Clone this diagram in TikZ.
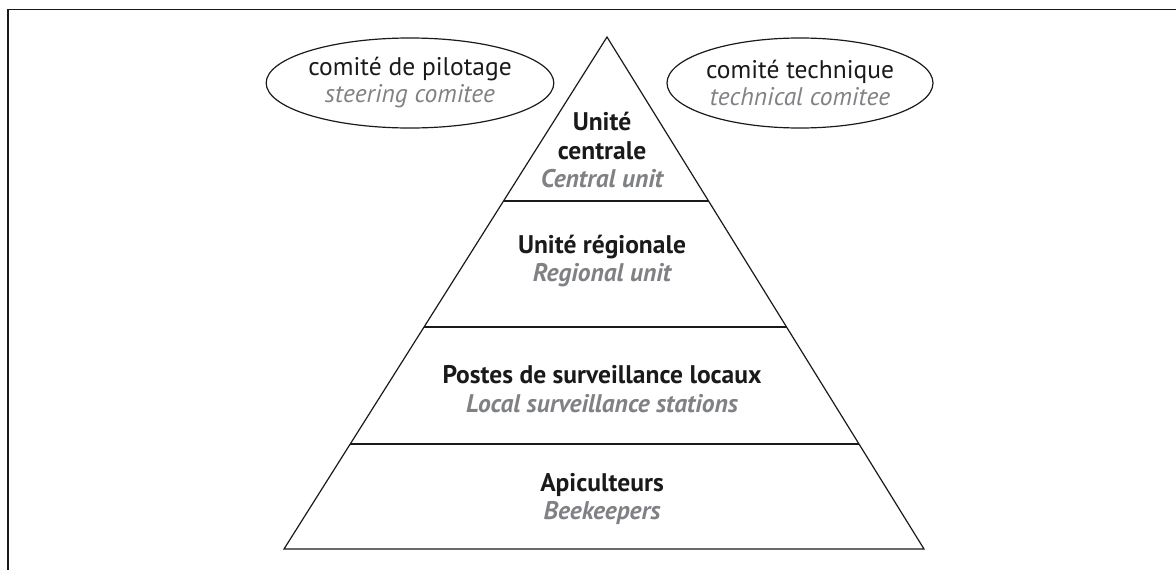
\documentclass[tikz,border=0pt]{standalone}
\usepackage{fontspec}
\setmainfont{PT Sans}
\usepackage{tikz}
\usetikzlibrary{shapes.geometric, calc}
\usepackage{xcolor}
\definecolor{ink}{HTML}{1A1A1A}
\definecolor{muted}{HTML}{808185}
\tikzset{
  frameline/.style={draw=ink, line width=1.4pt},
  pyramid/.style={draw=ink, line width=1.2pt, line join=miter},
  comite/.style={ellipse, draw=ink, line width=1.2pt, minimum width=266pt,
                 minimum height=90pt, inner sep=0pt, align=center,
                 font=\fontsize{25.5}{27}\selectfont, text=ink},
  level/.style={align=center, inner sep=0pt,
                font=\fontsize{25.5}{28.5}\selectfont\bfseries, text=ink},
}

\begin{document}
\begin{tikzpicture}[x=1pt, y=-1pt]
  \useasboundingbox (0,0) rectangle (1176,570);

  % frame (only top and left edges show)
  \draw[frameline] (8,575) -- (8,9.5) -- (1180,9.5);

  % pyramid
  \coordinate (apex) at (607,37);
  \coordinate (bl) at (284,549);
  \coordinate (br) at (924,549);
  \draw[pyramid] (apex) -- (bl) -- (br) -- cycle;
  \foreach \t/\n in {0.3203/a, 0.5664/b, 0.7949/c} {
    \draw[pyramid] ($(apex)!\t!(bl)$) -- ($(apex)!\t!(br)$);
  }

  % committees
  \node[comite] (pilot) at (410,83)
    {comité de pilotage\\{\itshape\color{muted}steering comitee}};
  \node[comite] (tech) at (800,83)
    {comité technique\\{\itshape\color{muted}technical comitee}};

  % levels
  \node[level] (central) at (602,150)
    {Unité\\centrale\\{\itshape\color{muted}Central unit}};
  \node[level] (regional) at (602,261)
    {Unité régionale\\{\itshape\color{muted}Regional unit}};
  \node[level] (postes) at (602,389)
    {Postes de surveillance locaux\\{\itshape\color{muted}Local surveillance stations}};
  \node[level] (apic) at (602,499)
    {Apiculteurs\\{\itshape\color{muted}Beekeepers}};

\end{tikzpicture}
\end{document}
